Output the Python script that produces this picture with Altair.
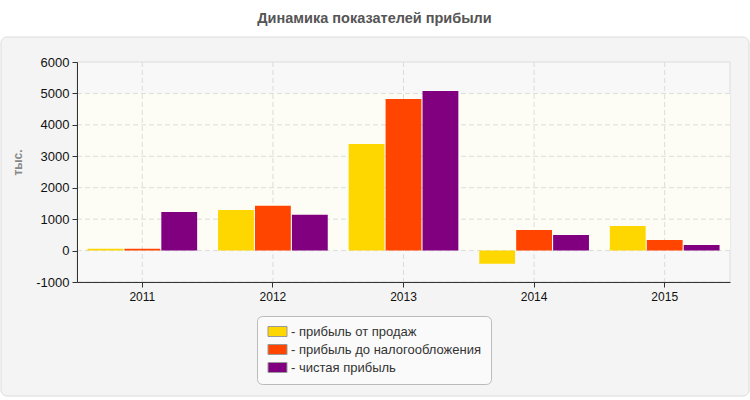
import altair as alt
import pandas as pd

# Profit indicators by year (thousands)
years = ["2011", "2012", "2013", "2014", "2015"]
series = ["прибыль от продаж", "прибыль до налогообложения", "чистая прибыль"]
sales_profit = [60, 1290, 3390, -420, 780]
pretax_profit = [60, 1425, 4820, 655, 340]
net_profit = [1225, 1140, 5075, 495, 180]
colors = ["#FFD700", "#FF4500", "#800080"]
y_ticks = [-1000, 0, 1000, 2000, 3000, 4000, 5000, 6000]
band_from, band_to = [0], [5000]

rows = []
for name, vals in zip(series, [sales_profit, pretax_profit, net_profit]):
    for yr, v in zip(years, vals):
        rows.append({"year": yr, "series": name, "value": v})
df = pd.DataFrame(rows)

W, H = 653, 220
FONT = "Liberation Sans"

x_scale = alt.Scale(domain=years, paddingInner=0.16, paddingOuter=0.08)
y_scale = alt.Scale(domain=[-1000, 6000], nice=False, zero=False)

x_axis = alt.Axis(title=None, grid=False, labelFont=FONT, labelFontSize=12,
                  labelColor="#111", labelAngle=0, domainColor="#333",
                  tickColor="#333", tickSize=5, labelPadding=4, zindex=1)
y_axis = alt.Axis(title="тыс.", values=y_ticks, grid=False, labelFont=FONT,
                  labelFontSize=13, labelColor="#111", labelOverlap=False,
                  labelExpr="'' + datum.value",
                  domainColor="#333", tickColor="#333", tickSize=5, labelPadding=3,
                  titleFont=FONT, titleFontSize=12, titleColor="#888",
                  titleFontWeight="bold", titlePadding=11, titleY=100, zindex=1)

one = pd.DataFrame({"k": [0]})

# rounded grey panel behind the plot and legend
panel = alt.Chart(one).mark_rect(
    fill="#f4f4f4", stroke="#dcdcdc", strokeWidth=1, cornerRadius=6
).encode(x=alt.value(-76), x2=alt.value(672), y=alt.value(-25), y2=alt.value(334))

# plot area background
plot_bg = alt.Chart(one).mark_rect(
    fill="#f8f8f8", stroke="#dddddd", strokeWidth=1
).encode(x=alt.value(0), x2=alt.value(W), y=alt.value(0), y2=alt.value(H))

# light cream band between 0 and 5000
band = alt.Chart(pd.DataFrame({"lo": band_from, "hi": band_to})).mark_rect(
    fill="#fdfdf6"
).encode(
    x=alt.value(0), x2=alt.value(W),
    y=alt.Y("lo:Q", scale=y_scale, axis=y_axis), y2="hi:Q",
)

# dashed grid lines
hgrid = alt.Chart(pd.DataFrame({"t": y_ticks[:-1]})).mark_rule(
    color="#dcdcdc", strokeDash=[5, 3], strokeWidth=1
).encode(y=alt.Y("t:Q", scale=y_scale, axis=y_axis))

vgrid = alt.Chart(pd.DataFrame({"year": years})).mark_rule(
    color="#dcdcdc", strokeDash=[5, 3], strokeWidth=1
).encode(x=alt.X("year:N", scale=x_scale, axis=x_axis), y=alt.value(0), y2=alt.value(H))

bars = alt.Chart(df).mark_bar().encode(
    x=alt.X("year:N", scale=x_scale, axis=x_axis),
    xOffset=alt.XOffset("series:N", sort=series,
                        scale=alt.Scale(domain=series, paddingInner=0.03, paddingOuter=0)),
    y=alt.Y("value:Q", scale=y_scale, axis=y_axis),
    y2=alt.datum(0),
    color=alt.Color(
        "series:N",
        scale=alt.Scale(domain=series, range=colors),
        legend=alt.Legend(
            title=None, orient="none", legendX=180, legendY=254,
            fillColor="#fafafa", strokeColor="#bbbbbb", cornerRadius=5,
            padding=9, rowPadding=3, labelFont=FONT, labelFontSize=13,
            labelColor="#333", symbolOffset=5, labelOffset=7, labelLimit=300,
            labelExpr="'- ' + datum.label",
            symbolType="M-1.9,-1L1.9,-1L1.9,1L-1.9,1Z", symbolSize=100,
            symbolStrokeColor="#999999", symbolStrokeWidth=1, symbolOpacity=1,
        ),
    ),
)

chart = alt.layer(panel, plot_bg, band, hgrid, vgrid, bars).properties(
    width=W, height=H,
    title=alt.Title("Динамика показателей прибыли", font=FONT, fontSize=14.5,
                    fontWeight="bold", color="#555", anchor="middle", dx=-29,
                    offset=10),
    background="white",
    autosize=alt.AutoSizeParams(type="none"),
    padding={"left": 77, "top": 62, "right": 20, "bottom": 118},
).configure_view(strokeWidth=0).configure_axisY(labelOverlap=False)

chart.save("out.html", embed_options={"renderer": "svg", "actions": False})
